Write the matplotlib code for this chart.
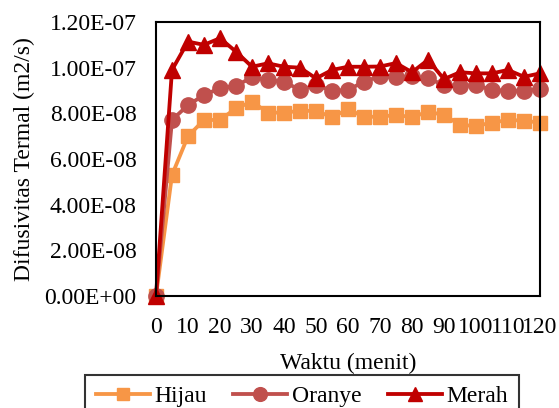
import numpy as np
import matplotlib.pyplot as plt

plt.rcParams['font.family'] = ['Liberation Serif', 'DejaVu Serif']

# waktu (menit)
waktu = list(range(0, 125, 5))

# difusivitas termal (m2/s) (x 1e-7)
hijau = [0.0, 0.53, 0.70, 0.771, 0.771, 0.822, 0.851, 0.803, 0.803, 0.811, 0.811,
         0.783, 0.818, 0.785, 0.785, 0.793, 0.783, 0.807, 0.793, 0.749, 0.745,
         0.759, 0.771, 0.768, 0.759]
oranye = [0.0, 0.771, 0.836, 0.880, 0.910, 0.920, 0.958, 0.946, 0.939, 0.902, 0.924,
          0.899, 0.902, 0.939, 0.962, 0.958, 0.962, 0.953, 0.924, 0.920, 0.924,
          0.902, 0.899, 0.900, 0.906]
merah = [0.0, 0.99, 1.114, 1.10, 1.129, 1.07, 1.004, 1.019, 1.004, 1.00, 0.953,
         0.99, 1.004, 1.004, 1.005, 1.02, 0.98, 1.034, 0.95, 0.98, 0.975,
         0.975, 0.99, 0.96, 0.975]

hijau = np.array(hijau) * 1e-7
oranye = np.array(oranye) * 1e-7
merah = np.array(merah) * 1e-7

FS = 17

fig = plt.figure(figsize=(5.59, 4.08), dpi=100)
ax = fig.add_axes([156 / 559, 1 - 296 / 408, (540 - 156) / 559, (296 - 22) / 408])

ax.plot(waktu, hijau, color='#F79646', lw=2.75, marker='s', ms=10, label='Hijau', clip_on=False)
ax.plot(waktu, oranye, color='#C0504D', lw=2.75, marker='o', ms=11, label='Oranye', clip_on=False)
ax.plot(waktu, merah, color='#C00000', lw=2.75, marker='^', ms=11, label='Merah', clip_on=False)

ax.set_xlim(0, 120)
ax.set_ylim(0, 1.2e-7)
ax.set_xticks(range(0, 121, 10))
yt = np.arange(0, 1.21e-7, 2e-8)
ax.set_yticks(yt)
ax.set_yticklabels(['%.2E' % v for v in yt])
ax.tick_params(length=0, labelsize=FS)
ax.tick_params(axis='y', pad=14)
ax.tick_params(axis='x', pad=15)
for s in ax.spines.values():
    s.set_linewidth(1.5)

ax.set_xlabel('Waktu (menit)', fontsize=FS, labelpad=11)
ax.set_ylabel('Difusivitas Termal (m2/s)', fontsize=FS, labelpad=7)

# legenda di bawah, sebagian terpotong seperti aslinya
leg = fig.legend(loc='upper center', bbox_to_anchor=(302 / 559, 1 - 375 / 408), ncol=3,
                 fontsize=FS, frameon=True, fancybox=False, edgecolor='black',
                 handlelength=2.3, handletextpad=0.2, columnspacing=1.1,
                 borderpad=0.45, borderaxespad=0, markerscale=0.9)
leg.get_frame().set_linewidth(1.5)

plt.savefig('out.png', dpi=100)
